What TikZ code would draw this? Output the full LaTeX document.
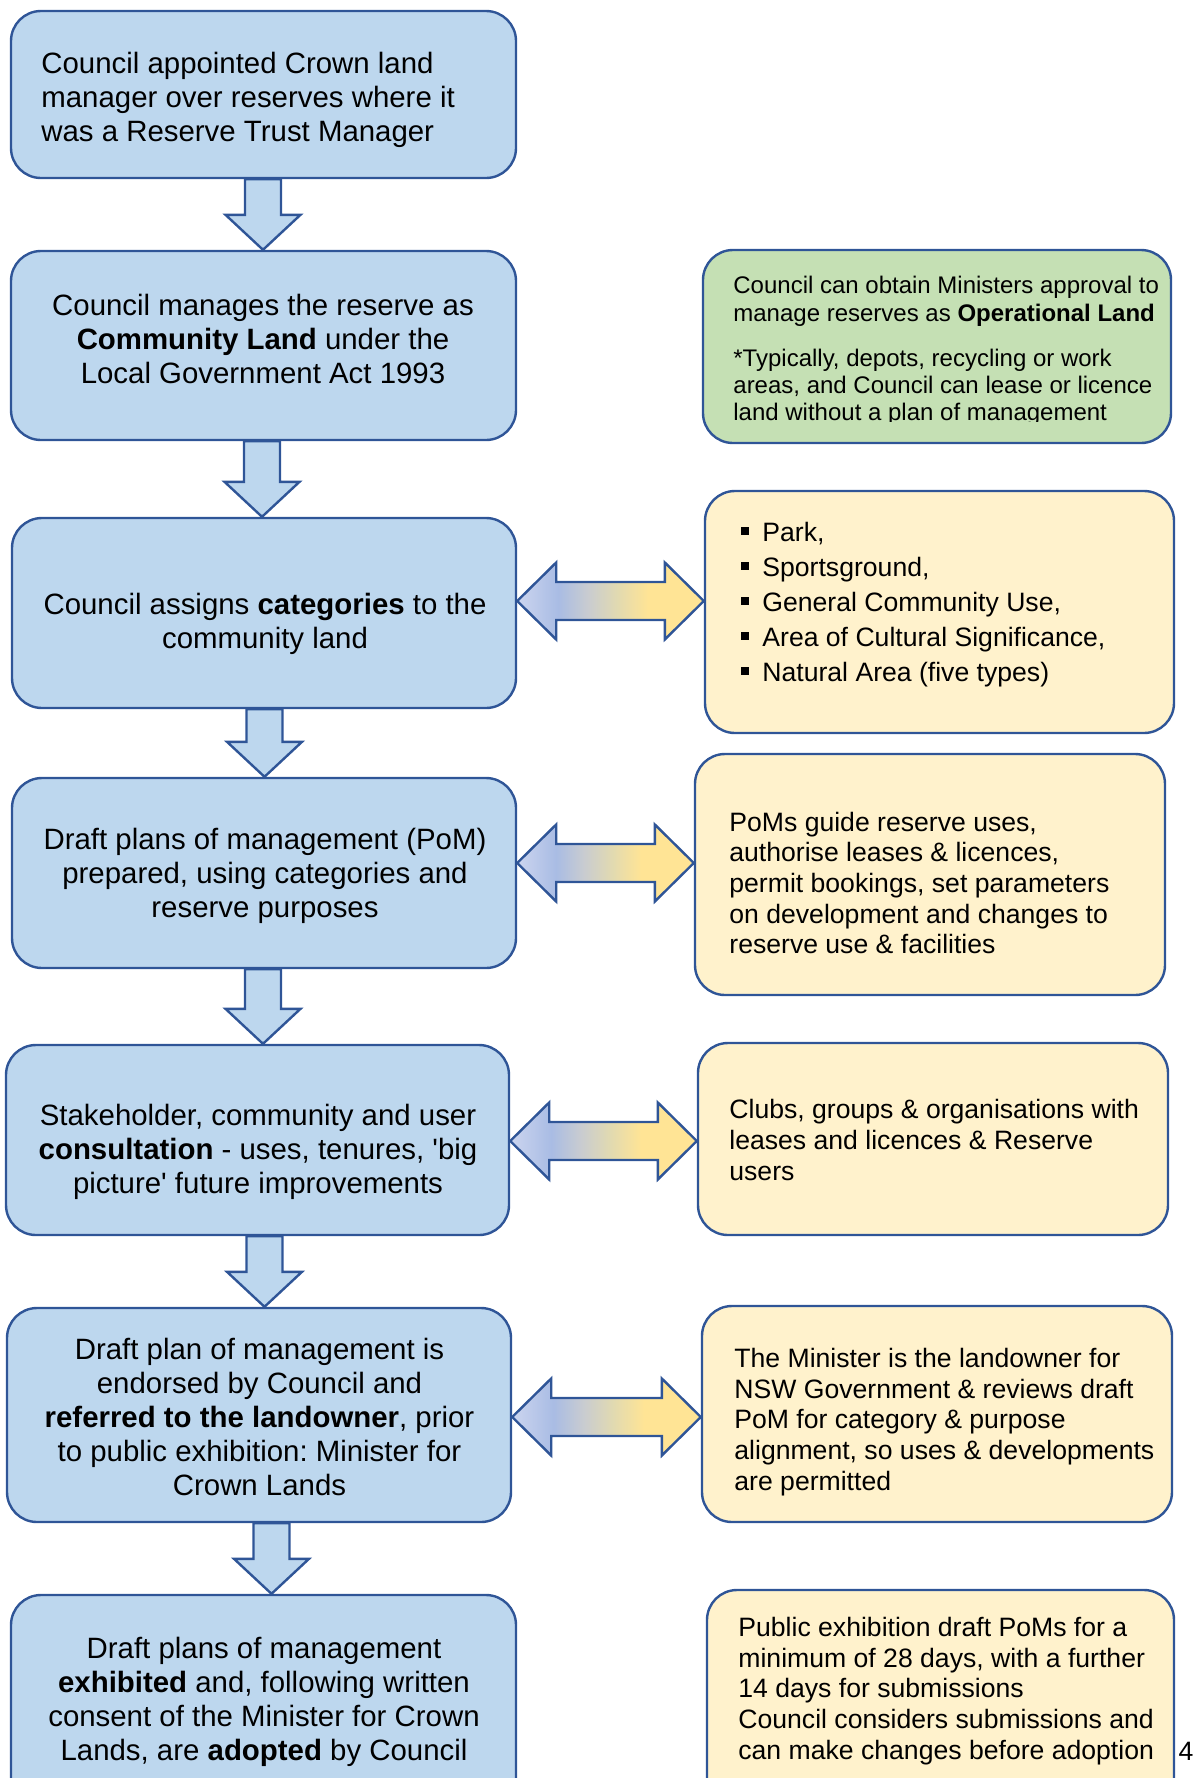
\documentclass[tikz,border=0pt]{standalone}
\usepackage{fontspec}
\setmainfont{Liberation Sans}
\usetikzlibrary{calc,fit}
\frenchspacing

\definecolor{boxblue}{HTML}{BDD7EE}
\definecolor{edgeblue}{HTML}{2F5597}
\definecolor{boxgreen}{HTML}{C5E0B4}
\definecolor{boxyellow}{HTML}{FFF2CC}
\definecolor{grA}{HTML}{CCD5EF}
\definecolor{grB}{HTML}{A9BCE4}
\definecolor{grC}{HTML}{C9CCD0}
\definecolor{grD}{HTML}{E2DAB0}
\definecolor{grE}{HTML}{FFE495}

% blue at the left tip, gold at the right tip
\pgfdeclarehorizontalshading{bluetogold}{100bp}{color(0bp)=(grA); color(25bp)=(grA); color(36bp)=(grB); color(44bp)=(grC); color(52bp)=(grD); color(60bp)=(grE); color(100bp)=(grE)}

\newcommand\sqbullet{\makebox[10.5pt][l]{\raisebox{3.6pt}{\rule{4pt}{4pt}}}}

% block arrow pointing down from one box to the next, at horizontal position #3
\newcommand\stepdown[3]{%
  \path (#3,0) coordinate (xref);
  \coordinate (stop) at (xref |- #1.south);
  \coordinate (stip) at (xref |- #2.north);
  \path[downarrow] ($(stop)+(-18,0)$) -- ($(stip)+(-18,-35)$) -- ($(stip)+(-37.5,-35)$)
    -- (stip) -- ($(stip)+(37.5,-35)$) -- ($(stip)+(18,-35)$) -- ($(stop)+(18,0)$) -- cycle;
}

% two-headed shaded arrow between a left box and a right box, at height #3
\newcommand\twoway[3]{%
  \path (0,#3) coordinate (yref);
  \coordinate (dl) at (#1.east |- yref);
  \coordinate (dr) at (#2.west |- yref);
  \path[linkarrow] (dl) -- ++(39,-38.5) -- ++(0,19.5) -- ($(dr)+(-39,-19)$) -- ++(0,-19.5)
    -- (dr) -- ++(-39,38.5) -- ++(0,-19.5) -- ($(dl)+(39,19)$) -- ++(0,19.5) -- cycle;
}

\begin{document}
\begin{tikzpicture}[x=0.5pt,y=-0.5pt,
  flowbox/.style={draw=edgeblue, line width=1.2pt, rounded corners=15pt, inner sep=0pt},
  bluebox/.style={flowbox, fill=boxblue},
  greenbox/.style={flowbox, fill=boxgreen},
  yellowbox/.style={flowbox, fill=boxyellow},
  downarrow/.style={draw=edgeblue, fill=boxblue, line width=1.2pt, line join=miter},
  linkarrow/.style={draw=edgeblue, line width=1.2pt, line join=miter, shade, shading=bluetogold},
  bigtext/.style={inner sep=0pt, align=center, font=\fontsize{14.7}{17}\selectfont},
  sidetext/.style={inner sep=0pt, align=left, anchor=west, font=\fontsize{13.3}{15.3}\selectfont}
]
\useasboundingbox (0,0) rectangle (1195,1778);
\clip (0,0) rectangle (1195,1778);

% main steps
\node[bluebox, fit={(11,11) (516,178)}] (b1) {};
\node[bluebox, fit={(11,251) (516,440)}] (b2) {};
\node[bluebox, fit={(12,518) (516,708)}] (b3) {};
\node[bluebox, fit={(12,778) (516,968)}] (b4) {};
\node[bluebox, fit={(6,1045) (509,1235)}] (b5) {};
\node[bluebox, fit={(7,1308) (511,1522)}] (b6) {};
\node[bluebox, fit={(11,1595) (516,1815)}] (b7) {};

% side notes
\node[greenbox, fit={(703,250) (1171,443)}] (r1) {};
\node[yellowbox, fit={(705,491) (1174,733)}] (r2) {};
\node[yellowbox, fit={(695,754) (1165,995)}] (r3) {};
\node[yellowbox, fit={(698,1043) (1168,1235)}] (r4) {};
\node[yellowbox, fit={(702,1306) (1172,1522)}] (r5) {};
\node[yellowbox, fit={(707,1590) (1174,1815)}] (r6) {};

% flow arrows
\stepdown{b1}{b2}{263}
\stepdown{b2}{b3}{262}
\stepdown{b3}{b4}{264.5}
\stepdown{b4}{b5}{263}
\stepdown{b5}{b6}{264.5}
\stepdown{b6}{b7}{271.5}

% links to the side notes
\twoway{b3}{r2}{601}
\twoway{b4}{r3}{863}
\twoway{b5}{r4}{1141}
\twoway{b6}{r5}{1417}

% text of the main steps
\node[bigtext, align=left, anchor=west] (t1) at (41,100) {Council appointed Crown land\\manager over reserves where it\\was a Reserve Trust Manager};
\node[bigtext] (t2) at (263,339) {Council manages the reserve as\\\textbf{Community Land} under the\\Local Government Act 1993};
\node[bigtext] (t3) at (265,624) {Council assigns \textbf{categories} to the\\community land};
\node[bigtext] (t4) at (265,876) {Draft plans of management (PoM)\\prepared, using categories and\\reserve purposes};
\node[bigtext] (t5) at (258,1152) {Stakeholder, community and user\\\textbf{consultation} - uses, tenures, \textquotesingle big\\picture\textquotesingle\ future improvements};
\node[bigtext] (t6) at (259.5,1417) {Draft plan of management is\\endorsed by Council and\\\textbf{referred to the landowner}, prior\\to public exhibition: Minister for\\Crown Lands};
\node[bigtext] (t7) at (264,1702) {Draft plans of management\\\textbf{exhibited} and, following written\\consent of the Minister for Crown\\Lands, are \textbf{adopted} by Council};

% text of the side notes
\begin{scope}
  \clip (703,250) rectangle (1171,421);
  \node[sidetext, font=\fontsize{12}{13.6}\selectfont] (s1) at (733,351) {Council can obtain Ministers approval to\\manage reserves as \textbf{Operational Land}\\[9pt]*Typically, depots, recycling or work\\areas, and Council can lease or licence\\land without a plan of management};
\end{scope}
\node[sidetext, font=\fontsize{13.3}{17.5}\selectfont] (s2) at (741,605) {\sqbullet Park,\\\sqbullet Sportsground,\\\sqbullet General Community Use,\\\sqbullet Area of Cultural Significance,\\\sqbullet Natural Area (five types)};
\node[sidetext] (s3) at (729,883) {PoMs guide reserve uses,\\authorise leases \& licences,\\permit bookings, set parameters\\on development and changes to\\reserve use \& facilities};
\node[sidetext] (s4) at (729,1140) {Clubs, groups \& organisations with\\leases and licences \& Reserve\\users};
\node[sidetext] (s5) at (734,1422) {The Minister is the landowner for\\NSW Government \& reviews draft\\PoM for category \& purpose\\alignment, so uses \& developments\\are permitted};
\node[sidetext, font=\fontsize{13.3}{15.4}\selectfont] (s6) at (738,1691) {Public exhibition draft PoMs for a\\minimum of 28 days, with a further\\14 days for submissions\\Council considers submissions and\\can make changes before adoption};

% page number
\node[inner sep=0pt, anchor=base, font=\fontsize{13.3}{15.4}\selectfont] (pg) at (1186,1760) {4};
\end{tikzpicture}
\end{document}
